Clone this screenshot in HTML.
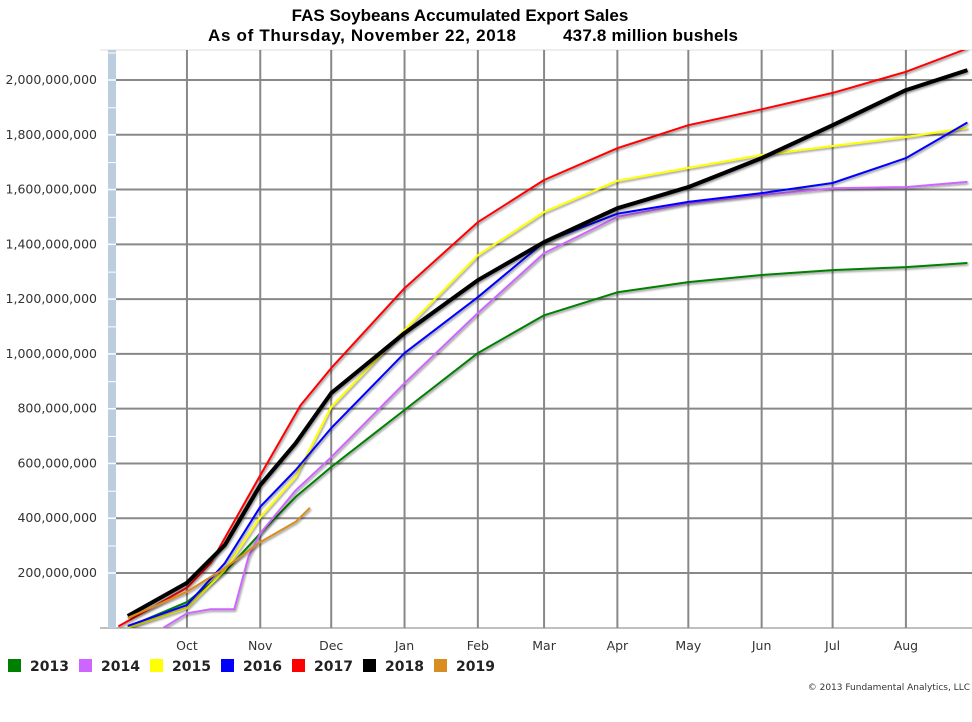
<!DOCTYPE html>
<html><head><meta charset="utf-8"><style>
body{margin:0;background:#fff;}
svg{display:block;font-family:"DejaVu Sans","Liberation Sans",sans-serif;}
</style></head><body>
<svg id="chart" width="972" height="722" viewBox="0 0 972 722" xmlns="http://www.w3.org/2000/svg">
<defs><filter id="sh" x="-5%" y="-5%" width="110%" height="110%"><feDropShadow dx="1" dy="1.5" stdDeviation="1" flood-color="#000" flood-opacity="0.45"/></filter>
<clipPath id="pc"><rect x="116" y="50" width="856" height="578"/></clipPath></defs>
<text x="460" y="21" text-anchor="middle" font-family="Liberation Sans" font-weight="bold" font-size="17">FAS Soybeans Accumulated Export Sales</text>
<text x="208" y="41" font-family="Liberation Sans" font-weight="bold" font-size="17" textLength="308">As of Thursday, November 22, 2018</text>
<text x="563" y="41" font-family="Liberation Sans" font-weight="bold" font-size="17" textLength="175">437.8 million bushels</text>
<g id="grid"></g>
<g id="axis"></g>
<g id="series" clip-path="url(#pc)"></g>
<g id="legend"></g>
<text x="970" y="690" text-anchor="end" font-size="9" fill="#333">© 2013 Fundamental Analytics, LLC</text>
</svg>
<script>
const days=[5,30,46,61,76,91,122,153,181,212,242,273,303,334,360];
const s2013=[3,94,204,345,478,587,795,1003,1141,1225,1262,1288,1306,1317,1332];
const days2014=[20,30,40,50,56,61,76,91,122,153,181,212,242,273,303,334,360];
const s2014=[0,53,68,68,258,345,502,623,893,1149,1368,1500,1550,1580,1605,1609,1628];
const s2015=[0,72,211,404,551,806,1087,1360,1518,1632,1679,1726,1759,1792,1825];
const s2016=[7,83,236,442,576,729,1003,1207,1408,1512,1555,1587,1624,1715,1845];
const days2017=[1,30,40,61,78,91,122,153,181,212,242,273,303,334,360];
const s2017=[5,146,236,557,812,948,1240,1481,1635,1751,1835,1893,1953,2030,2115];
const s2018=[43,164,302,521,674,857,1076,1269,1408,1532,1609,1715,1835,1963,2036];
const days2019=[5,30,46,61,76,82];
const s2019=[36,131,218,313,387,438];
const yTicks=[200,400,600,800,1000,1200,1400,1600,1800,2000];
const months=["Oct","Nov","Dec","Jan","Feb","Mar","Apr","May","Jun","Jul","Aug"];
const monthDays=[30,61,91,122,153,181,212,242,273,303,334];
const names=["2013","2014","2015","2016","2017","2018","2019"];
const colors=["#008000","#cc66ff","#ffff00","#0000ff","#ff0000","#000000","#d98c1f"];
const NS="http://www.w3.org/2000/svg";
const X=d=>116+d*2.365, Y=v=>627.8-v*0.2739;
function mk(t,a,p){const e=document.createElementNS(NS,t);for(const k in a)e.setAttribute(k,a[k]);p.appendChild(e);return e;}
const grid=document.getElementById('grid'),axis=document.getElementById('axis');
mk('rect',{x:108,y:50,width:8,height:578,fill:'#bccde0'},axis);
mk('line',{x1:100,y1:50,x2:972,y2:50,stroke:'#ddd','stroke-width':1},grid);
yTicks.forEach(v=>{
 const g=mk('line',{x1:116,y1:Y(v),x2:972,y2:Y(v),stroke:'#888','stroke-width':2},grid);
 
 const t=mk('text',{x:97,y:Y(v)+4,'text-anchor':'end','font-size':12.5,fill:'#333'},axis);
 
 t.textContent=(v*1e6).toLocaleString('en-US');
 mk('line',{x1:100,y1:Y(v),x2:116,y2:Y(v),stroke:'#fff','stroke-width':1.5},axis);
 mk('line',{x1:108,y1:Y(v)-27,x2:116,y2:Y(v)-27,stroke:'#fff','stroke-width':1},axis);
});
mk('line',{x1:100,y1:628,x2:972,y2:628,stroke:'#aaa','stroke-width':1.5},grid);
monthDays.forEach((d,i)=>{
 const l=mk('line',{x1:X(d),y1:50,x2:X(d),y2:628,stroke:'#888','stroke-width':2},grid);
 
 const t=mk('text',{x:X(d),y:650,'text-anchor':'middle','font-size':12.5,fill:'#333'},axis);
 
 t.textContent=months[i];
});
const ser=document.getElementById('series');
const all=[[days,s2013],[days2014,s2014],[days,s2015],[days,s2016],[days2017,s2017],[days,s2018],[days2019,s2019]];
all.forEach((p,i)=>{
 const pts=p[0].map((d,j)=>X(d).toFixed(1)+','+Y(p[1][j]).toFixed(1)).join(' ');
 const pl=mk('polyline',{points:pts,fill:'none',stroke:colors[i],'stroke-width':i==5?4:2,'stroke-linejoin':'round',filter:'url(#sh)'},ser);
 
 
});
const lg=document.getElementById('legend');
names.forEach((n,i)=>{
 const x0=8+i*71;
 const r=mk('rect',{x:x0,y:659,width:13,height:13,fill:colors[i]},lg);
 
 const t=mk('text',{x:x0+22,y:671,'font-size':14,'font-weight':'bold',fill:'#222'},lg);
 
 
 t.textContent=n;
});
</script>
</body></html>
